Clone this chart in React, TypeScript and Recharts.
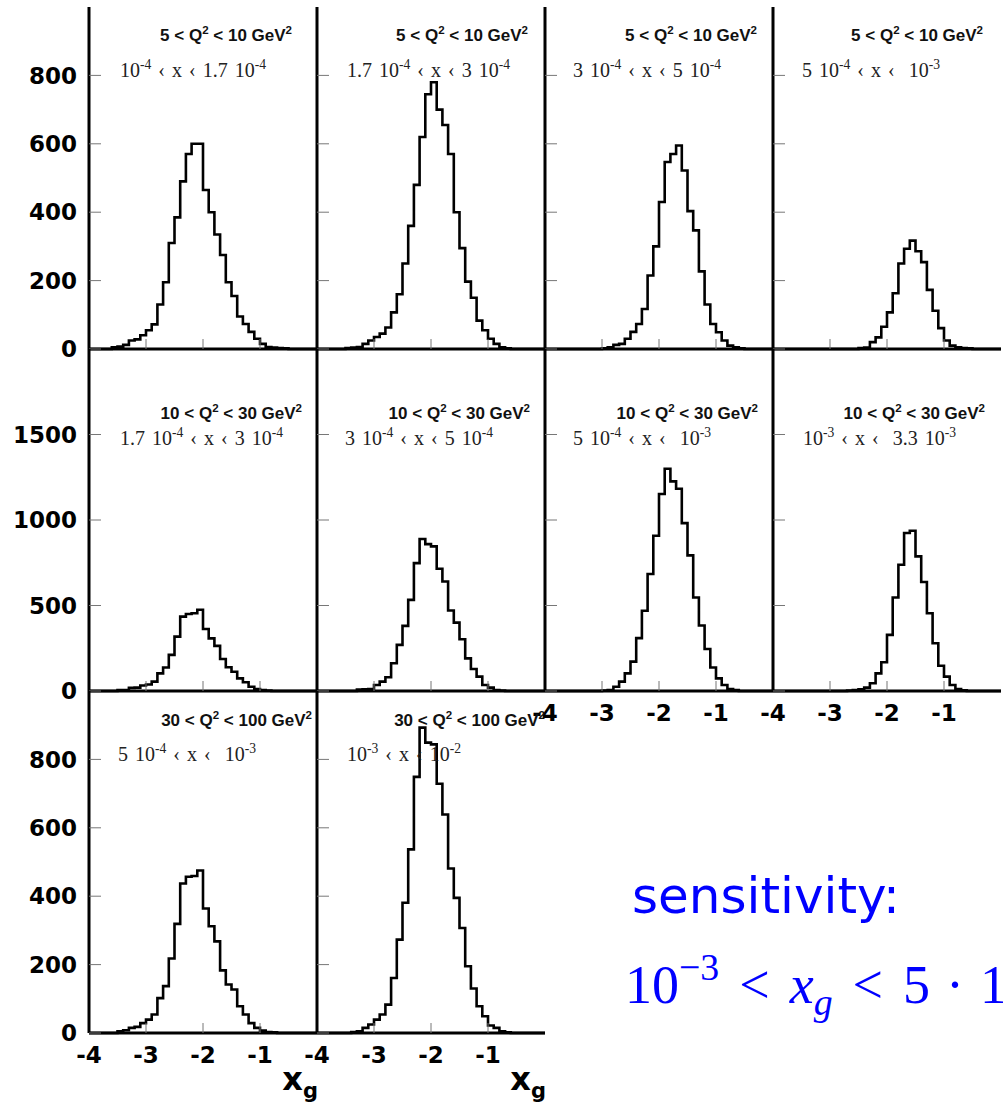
import React from 'react';
import { LineChart, Line, XAxis, YAxis } from 'recharts';

// lower edges of the 40 bins in log10(x_g), plus the closing edge at 0
const binEdges = [
  -4, -3.9, -3.8, -3.7, -3.6, -3.5, -3.4, -3.3, -3.2, -3.1,
  -3, -2.9, -2.8, -2.7, -2.6, -2.5, -2.4, -2.3, -2.2, -2.1,
  -2, -1.9, -1.8, -1.7, -1.6, -1.5, -1.4, -1.3, -1.2, -1.1,
  -1, -0.9, -0.8, -0.7, -0.6, -0.5, -0.4, -0.3, -0.2, -0.1, 0,
];

const xTicks = [-4, -3, -2, -1];
const yTicks1000 = [0, 200, 400, 600, 800];
const yTicks2000 = [0, 500, 1000, 1500];

// event counts per bin
const q5x1 = [0,0,0,0,5,7,12,25,28,40,55,72,130,195,310,385,490,570,600,600,465,400,335,275,195,155,95,73,50,30,15,6,4,3,2,0,0,0,0,0];
const q5x2 = [0,0,0,0,0,3,4,6,15,25,35,45,63,107,160,250,360,480,620,745,780,700,655,570,400,295,197,150,83,55,30,15,5,2,0,0,0,0,0,0];
const q5x3 = [0,0,0,0,0,0,0,0,0,0,2,5,12,15,30,50,73,117,215,300,430,547,570,595,522,403,347,227,130,73,49,25,10,5,2,0,0,0,0,0];
const q5x4 = [0,0,0,0,0,0,0,0,0,0,0,0,0,0,0,3,4,20,34,65,107,163,250,293,317,286,254,173,112,61,25,10,5,3,2,0,0,0,0,0];
const q10x2 = [0,0,0,0,0,5,6,18,20,32,38,55,103,137,211,318,435,450,455,475,363,308,264,187,139,113,74,51,25,12,5,3,0,0,0,0,0,0,0,0];
const q10x3 = [0,0,0,0,0,0,0,8,10,12,35,55,80,162,270,381,533,748,889,859,846,715,640,471,400,303,191,129,84,35,20,6,2,0,0,0,0,0,0,0];
const q10x4 = [0,0,0,0,0,0,0,0,0,0,3,6,25,55,103,172,309,469,684,908,1152,1300,1226,1183,982,793,547,383,246,137,74,35,12,5,0,0,0,0,0,0];
const q10x5 = [0,0,0,0,0,0,0,0,0,0,0,0,0,3,5,10,20,45,103,168,328,547,738,924,937,787,637,455,279,148,84,35,12,4,0,0,0,0,0,0];
const q30x4 = [0,0,0,0,0,5,8,15,18,29,39,54,102,137,218,319,437,457,459,475,364,312,268,183,142,127,78,54,29,15,7,3,2,0,0,0,0,0,0,0];
const q30x5 = [0,0,0,0,0,0,3,5,15,25,39,54,83,161,273,381,537,749,893,849,844,729,639,481,395,307,195,130,78,49,22,15,5,2,0,0,0,0,0,0];

const q2Labels = [
  '5 < Q^{2} < 10 GeV^{2}', '5 < Q^{2} < 10 GeV^{2}', '5 < Q^{2} < 10 GeV^{2}', '5 < Q^{2} < 10 GeV^{2}',
  '10 < Q^{2} < 30 GeV^{2}', '10 < Q^{2} < 30 GeV^{2}', '10 < Q^{2} < 30 GeV^{2}', '10 < Q^{2} < 30 GeV^{2}',
  '30 < Q^{2} < 100 GeV^{2}', '30 < Q^{2} < 100 GeV^{2}',
];
const xLabels = [
  '10^{-4} ‹ x ‹ 1.7 10^{-4}', '1.7 10^{-4} ‹ x ‹ 3 10^{-4}', '3 10^{-4} ‹ x ‹ 5 10^{-4}', '5 10^{-4} ‹ x ‹  10^{-3}',
  '1.7 10^{-4} ‹ x ‹ 3 10^{-4}', '3 10^{-4} ‹ x ‹ 5 10^{-4}', '5 10^{-4} ‹ x ‹  10^{-3}', '10^{-3} ‹ x ‹  3.3 10^{-3}',
  '5 10^{-4} ‹ x ‹  10^{-3}', '10^{-3} ‹ x ‹ 10^{-2}',
];

const panelValues = [q5x1, q5x2, q5x3, q5x4, q10x2, q10x3, q10x4, q10x5, q30x4, q30x5];

// layout
const COL_X = [89, 317, 545, 773];
const ROW_Y = [7, 349, 691];
const PW = 228;
const PH = 342;
const PAD_L = 89;
const PAD_T = 10;
const PAD_R = 10;
const PAD_B = 50;
const Q_TOP = [20, 56, 21];
const X_TOP = [53, 79, 53];
const Q_RIGHT = [25, 17, 16, 18, 15, 15, 15, 16, 5, 0];
const X_LEFT = [31, 30, 28, 29, 31, 28, 28, 30, 29, 30];

const frame = { stroke: '#000', strokeWidth: 3 };
const tickFont = { fill: '#000', fontSize: 23, fontWeight: 'bold', fontFamily: '"DejaVu Sans", sans-serif' };
const supStyle = { fontSize: '0.68em', lineHeight: 0, verticalAlign: '0.6em' };

function Rich({ text }: { text: string }) {
  const parts = text.split(/(\^\{[^}]*\})/);
  return (
    <>
      {parts.map((p, i) =>
        p.startsWith('^{') ? (
          <sup key={i} style={supStyle}>{p.slice(2, -1)}</sup>
        ) : (
          <span key={i}>{p}</span>
        )
      )}
    </>
  );
}

function Panel({ idx }: { idx: number }) {
  const values = panelValues[idx];
  const row = Math.floor(idx / 4);
  const col = idx % 4;
  const left = COL_X[col];
  const top = ROW_Y[row];
  const yMax = row === 1 ? 2000 : 1000;
  const yTicks = row === 1 ? yTicks2000 : yTicks1000;
  const showY = col === 0;
  const showX = idx >= 6;
  const data = binEdges.map((x, i) => ({ x, n: values[Math.min(i, values.length - 1)] }));

  return (
    <>
      <div style={{ position: 'absolute', left: left - PAD_L, top: top - PAD_T }}>
        <LineChart
          width={PAD_L + PW + PAD_R}
          height={PAD_T + PH + PAD_B}
          data={data}
          margin={{ top: PAD_T, right: PAD_R, bottom: 0, left: 0 }}
        >
          <XAxis
            xAxisId="b"
            dataKey="x"
            type="number"
            domain={[-4, 0]}
            ticks={xTicks}
            interval={0}
            height={PAD_B}
            axisLine={frame}
            tickLine={{ stroke: '#777', strokeWidth: 1 }}
            tickSize={-10}
            tickMargin={24}
            tick={tickFont}
            tickFormatter={(v: number) => (showX ? String(v) : '')}
          />
          <XAxis
            xAxisId="t"
            orientation="top"
            dataKey="x"
            type="number"
            domain={[-4, 0]}
            height={0}
            tick={false}
            tickLine={false}
            axisLine={frame}
          />
          <YAxis
            yAxisId="l"
            type="number"
            domain={[0, yMax]}
            ticks={yTicks}
            interval={0}
            width={PAD_L}
            axisLine={frame}
            tickLine={{ stroke: '#777', strokeWidth: 1 }}
            tickSize={-12}
            tickMargin={24}
            tick={tickFont}
            tickFormatter={(v: number) => (showY ? String(v) : '')}
          />
          <YAxis
            yAxisId="r"
            orientation="right"
            type="number"
            domain={[0, yMax]}
            width={0}
            tick={false}
            tickLine={false}
            axisLine={frame}
          />
          <Line
            xAxisId="b"
            yAxisId="l"
            type="stepAfter"
            dataKey="n"
            stroke="#000"
            strokeWidth={2.6}
            dot={false}
            isAnimationActive={false}
          />
        </LineChart>
      </div>
      <div
        style={{
          position: 'absolute',
          right: 1003 - (left + PW) + Q_RIGHT[idx],
          top: top + Q_TOP[row],
          fontFamily: '"Liberation Sans", Arial, sans-serif',
          fontWeight: 'bold',
          fontSize: 17,
          lineHeight: 1,
          whiteSpace: 'pre',
          color: '#111',
        }}
      >
        <Rich text={q2Labels[idx]} />
      </div>
      <div
        style={{
          position: 'absolute',
          left: left + X_LEFT[idx],
          top: top + X_TOP[row],
          fontFamily: '"Liberation Serif", "Times New Roman", serif',
          fontSize: 20,
          lineHeight: 1,
          whiteSpace: 'pre',
          wordSpacing: 2,
          color: '#222',
        }}
      >
        <Rich text={xLabels[idx]} />
      </div>
    </>
  );
}

function XgLabel({ right }: { right: number }) {
  return (
    <div
      style={{
        position: 'absolute',
        left: right - 40,
        width: 40,
        textAlign: 'right',
        top: 1063,
        fontFamily: '"DejaVu Sans", sans-serif',
        fontWeight: 'bold',
        fontSize: 32,
        lineHeight: 1,
      }}
    >
      x<span style={{ fontSize: 21, position: 'relative', top: 8 }}>g</span>
    </div>
  );
}

const rel = { display: 'inline-block', margin: '0 20px' };
const mathSup = { fontSize: '0.7em', lineHeight: 0, verticalAlign: '0.62em' };

export default function App() {
  return (
    <div
      style={{
        position: 'absolute',
        left: 0,
        top: 0,
        width: 1003,
        height: 1103,
        overflow: 'hidden',
        background: '#fff',
      }}
    >
      {panelValues.map((_, i) => (
        <Panel key={i} idx={i} />
      ))}
      <XgLabel right={318} />
      <XgLabel right={546} />
      <div
        style={{
          position: 'absolute',
          left: 632,
          top: 871,
          color: '#0000ff',
          fontFamily: '"DejaVu Sans", sans-serif',
          fontSize: 50,
          lineHeight: 1,
          whiteSpace: 'pre',
        }}
      >
        sensitivity:
      </div>
      <div
        style={{
          position: 'absolute',
          left: 625,
          top: 958,
          color: '#0000ff',
          fontFamily: '"Liberation Serif", "Times New Roman", serif',
          fontSize: 54,
          lineHeight: 1,
          whiteSpace: 'pre',
        }}
      >
        10<sup style={mathSup}>−3</sup>
        <span style={rel}>&lt;</span>
        <i>x</i>
        <sub style={{ fontSize: '0.7em', lineHeight: 0, fontStyle: 'italic' }}>g</sub>
        <span style={rel}>&lt;</span>5<span style={{ display: 'inline-block', margin: '0 16px' }}>·</span>10
        <sup style={mathSup}>−2</sup>
      </div>
    </div>
  );
}
